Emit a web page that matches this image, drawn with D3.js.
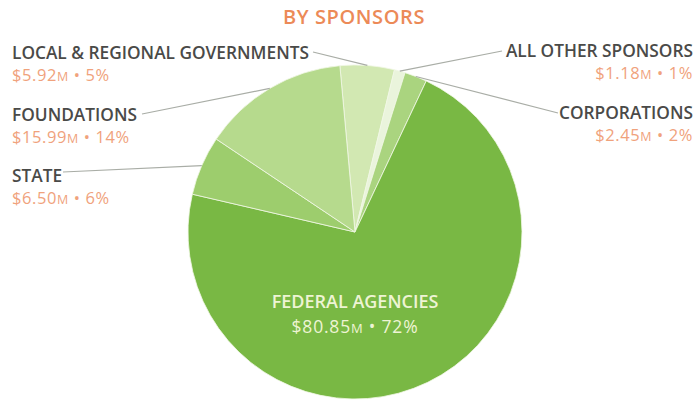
<!DOCTYPE html>
<html>
<head>
<meta charset="utf-8">
<script src="https://cdn.jsdelivr.net/npm/d3@7"></script>
<style>
  html, body { margin: 0; padding: 0; background: #fff; }
  svg { display: block; }
  text { font-family: "Open Sans", "Noto Sans", sans-serif; }
</style>
</head>
<body>
<svg id="chart" width="695" height="402"></svg>
<script>
// Sponsored research funding, drawn clockwise from the top
const sponsors = ["LOCAL & REGIONAL GOVERNMENTS", "ALL OTHER SPONSORS", "CORPORATIONS",
                  "FEDERAL AGENCIES", "STATE", "FOUNDATIONS"];
const amounts  = [5.92, 1.18, 2.45, 80.85, 6.50, 15.99];   // $ millions
const percents = [5, 1, 2, 72, 6, 14];
const sliceColors = ["#d2e8b2", "#eaf4dc", "#aad47f", "#79b844", "#9dcd6d", "#b6da8d"];
const titleText = "BY SPONSORS";

const svg = d3.select("#chart");
const cx = 355, cy = 232, radius = 167;
const startDeg = -5.2;

const pie = d3.pie().sort(null).value(d => d.value)
  .startAngle(startDeg * Math.PI / 180)
  .endAngle((startDeg + 360) * Math.PI / 180);
const arc = d3.arc().innerRadius(0).outerRadius(radius);

const data = sponsors.map((name, i) => ({ name, value: amounts[i], pct: percents[i], color: sliceColors[i] }));
const arcs = pie(data);

const g = svg.append("g").attr("transform", `translate(${cx},${cy})`);
g.selectAll("path.slice").data(arcs).join("path")
  .attr("class", "slice")
  .attr("d", arc)
  .attr("fill", d => d.data.color)
  .attr("stroke", "#f1f8e6")
  .attr("stroke-width", 1)
  .attr("stroke-opacity", 0.8);

// Title
svg.append("text")
  .attr("x", 354).attr("y", 24)
  .attr("text-anchor", "middle")
  .attr("fill", "#ec8a57")
  .attr("font-size", 20).attr("font-weight", 600)
  .attr("letter-spacing", 0.6)
  .text(titleText);

// Outside label anchors: text position, alignment and where the leader starts
const labelLayout = {
  "LOCAL & REGIONAL GOVERNMENTS": { x: 12,  y: 59,  anchor: "start", lx: 313, ly: 52 },
  "FOUNDATIONS":                  { x: 12,  y: 121, anchor: "start", lx: 142, ly: 114 },
  "STATE":                        { x: 12,  y: 182, anchor: "start", lx: 63,  ly: 172 },
  "ALL OTHER SPONSORS":           { x: 693, y: 57,  anchor: "end",   lx: 502, ly: 51 },
  "CORPORATIONS":                 { x: 693, y: 119, anchor: "end",   lx: 558, ly: 113 }
};

function valueLabel(sel, d, mSize) {
  sel.append("tspan").text("$" + d.data.value.toFixed(2));
  sel.append("tspan").attr("font-size", mSize).text("M");
  sel.append("tspan").text(" \u2022 " + d.data.pct + "%");
}

arcs.forEach(d => {
  const lay = labelLayout[d.data.name];
  if (!lay) return;
  const mid = (d.startAngle + d.endAngle) / 2;
  const ex = cx + radius * Math.sin(mid);
  const ey = cy - radius * Math.cos(mid);
  svg.append("line")
    .attr("x1", lay.lx).attr("y1", lay.ly)
    .attr("x2", ex).attr("y2", ey)
    .attr("stroke", "#a9ada6").attr("stroke-width", 1.2);
  svg.append("text")
    .attr("x", lay.x).attr("y", lay.y)
    .attr("text-anchor", lay.anchor)
    .attr("fill", "#4a4a48")
    .attr("font-size", 17.3).attr("font-weight", 600)
    .text(d.data.name);
  svg.append("text")
    .attr("x", lay.x).attr("y", lay.y + 22)
    .attr("text-anchor", lay.anchor)
    .attr("fill", "#f0a27c")
    .attr("font-size", 16.5).attr("font-weight", 400)
    .attr("letter-spacing", 0.6)
    .call(valueLabel, d, 12.5);
});

// Label inside the largest slice
const fed = arcs[3];
svg.append("text")
  .attr("x", cx).attr("y", 308)
  .attr("text-anchor", "middle")
  .attr("fill", "#eef4d4")
  .attr("font-size", 18).attr("font-weight", 600)
  .text(fed.data.name);
svg.append("text")
  .attr("x", cx).attr("y", 333)
  .attr("text-anchor", "middle")
  .attr("fill", "#eef4d4")
  .attr("font-size", 17.5).attr("font-weight", 400)
  .attr("letter-spacing", 0.8)
  .call(valueLabel, fed, 13);
</script>
</body>
</html>
